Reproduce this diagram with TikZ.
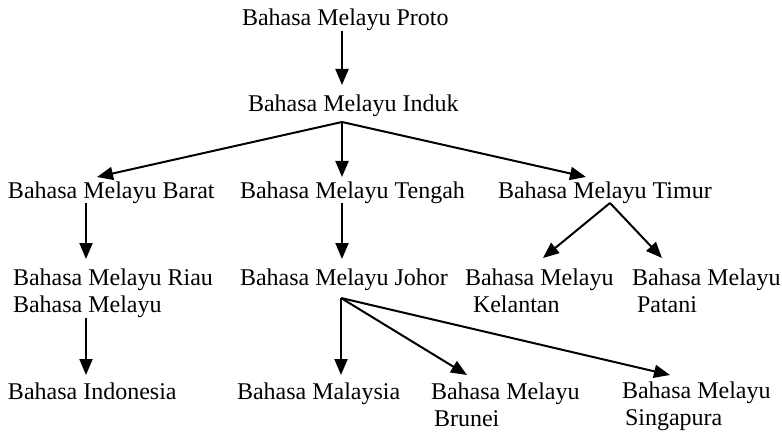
\documentclass[tikz,border=0pt]{standalone}
\usepackage{fontspec}
\setmainfont{Liberation Serif}
\usetikzlibrary{arrows.meta}
\begin{document}
\begin{tikzpicture}[x=1pt,y=-1pt,
  lbl/.style={anchor=base west,inner sep=0pt,outer sep=0pt,align=left,
    font=\fontsize{24pt}{27pt}\selectfont},
  conn/.style={line width=2pt,-{Triangle[length=16pt,width=13pt]}}]
\useasboundingbox (0,0) rectangle (782,433);
% nodes (multi-line nodes are placed at the baseline of their last line)
\node[lbl] (proto) at (242,26) {Bahasa Melayu Proto};
\node[lbl] (induk) at (248,112) {Bahasa Melayu Induk};
\node[lbl] (barat) at (8,198) {Bahasa Melayu Barat};
\node[lbl] (tengah) at (240,198) {Bahasa Melayu Tengah};
\node[lbl] (timur) at (498,198) {Bahasa Melayu Timur};
\node[lbl] (riau) at (13,312) {Bahasa Melayu Riau\\Bahasa Melayu};
\node[lbl] (johor) at (240,285) {Bahasa Melayu Johor};
\node[lbl] (kelantan) at (465,312) {Bahasa Melayu\\\hspace*{8pt}Kelantan};
\node[lbl] (patani) at (632,312) {Bahasa Melayu\\\hspace*{5pt}Patani};
\node[lbl] (indonesia) at (8,399) {Bahasa Indonesia};
\node[lbl] (malaysia) at (237,399) {Bahasa Malaysia};
\node[lbl] (brunei) at (431,426) {Bahasa Melayu\\\hspace*{3pt}Brunei};
\node[lbl] (singapura) at (622,425) {Bahasa Melayu\\\hspace*{3pt}Singapura};
% connector anchor points
\coordinate (protoS) at (342,31);
\coordinate (indukN) at (342,85);
\coordinate (indukS) at (342,122);
\coordinate (baratN) at (97,177);
\coordinate (tengahN) at (342,177);
\coordinate (timurN) at (586,177);
\coordinate (baratS) at (86,203);
\coordinate (riauN) at (86,259);
\coordinate (riauS) at (86,318);
\coordinate (indonesiaN) at (86,375);
\coordinate (tengahS) at (342,203);
\coordinate (johorN) at (342,259);
\coordinate (johorS) at (341,298);
\coordinate (malaysiaN) at (341,375);
\coordinate (bruneiN) at (467,375);
\coordinate (singapuraN) at (670,375);
\coordinate (timurS) at (610,203);
\coordinate (kelantanN) at (543,258);
\coordinate (pataniN) at (662,258);
% connectors
\draw[conn] (protoS) -- (indukN);
\draw[conn] (indukS) -- (baratN);
\draw[conn] (indukS) -- (tengahN);
\draw[conn] (indukS) -- (timurN);
\draw[conn] (baratS) -- (riauN);
\draw[conn] (riauS) -- (indonesiaN);
\draw[conn] (tengahS) -- (johorN);
\draw[conn] (johorS) -- (malaysiaN);
\draw[conn] (johorS) -- (bruneiN);
\draw[conn] (johorS) -- (singapuraN);
\draw[conn] (timurS) -- (kelantanN);
\draw[conn] (timurS) -- (pataniN);
\end{tikzpicture}
\end{document}
